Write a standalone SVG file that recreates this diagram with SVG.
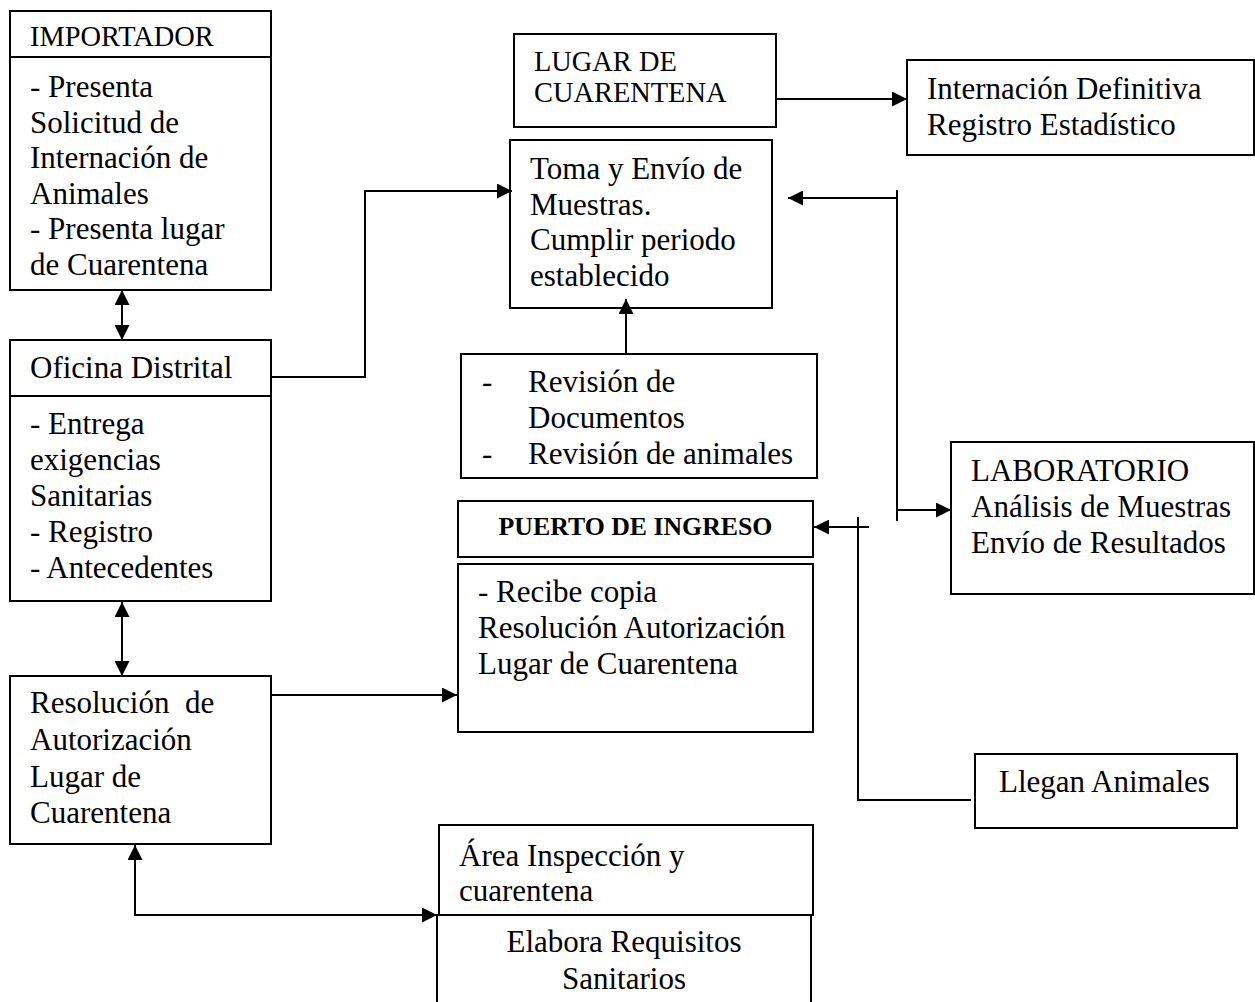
<svg xmlns="http://www.w3.org/2000/svg" width="1255" height="1002" viewBox="0 0 1255 1002">
<style>
.box{fill:#fff;stroke:#000;stroke-width:2}
.ln{fill:none;stroke:#000;stroke-width:2}
text{font-family:"Liberation Serif","Times New Roman",serif;font-size:31px;fill:#000}
.s{font-size:28.4px}
.b{font-size:25.8px;font-weight:bold}
</style>
<defs>
<marker id="ah" markerUnits="userSpaceOnUse" markerWidth="15" markerHeight="15" viewBox="0 0 15 15" refX="15" refY="7.5" orient="auto-start-reverse">
<path d="M0,0 L15,7.5 L0,15 z" fill="#000"/>
</marker>
</defs>
<rect width="1255" height="1002" fill="#fff"/>

<g id="importador">
<rect class="box" x="10" y="11" width="261" height="279"/>
<line class="ln" x1="10" y1="57" x2="271" y2="57"/>
<text class="s" x="30" y="46">IMPORTADOR</text>
<text x="30" y="97">- Presenta</text>
<text x="30" y="132.5">Solicitud de</text>
<text x="30" y="168">Internación de</text>
<text x="30" y="203.5">Animales</text>
<text x="30" y="239">- Presenta lugar</text>
<text x="30" y="274.5">de Cuarentena</text>
</g>

<g id="oficina">
<rect class="box" x="10" y="340" width="261" height="261"/>
<line class="ln" x1="10" y1="396" x2="271" y2="396"/>
<text x="30" y="378">Oficina Distrital</text>
<text x="30" y="434">- Entrega</text>
<text x="30" y="470">exigencias</text>
<text x="30" y="506">Sanitarias</text>
<text x="30" y="542">- Registro</text>
<text x="30" y="578">- Antecedentes</text>
</g>

<g id="resolucion">
<rect class="box" x="10" y="676" width="261" height="168"/>
<text x="30" y="713">Resolución<tspan x="185">de</tspan></text>
<text x="30" y="750">Autorización</text>
<text x="30" y="786.5">Lugar de</text>
<text x="30" y="822.5">Cuarentena</text>
</g>

<g id="lugar">
<rect class="box" x="514" y="34" width="262" height="93"/>
<text class="s" x="534" y="71">LUGAR DE</text>
<text class="s" x="534" y="102">CUARENTENA</text>
</g>

<g id="internacion">
<rect class="box" x="907" y="60" width="347" height="95"/>
<text x="927" y="99">Internación Definitiva</text>
<text x="927" y="135">Registro Estadístico</text>
</g>

<g id="toma">
<rect class="box" x="510" y="140" width="262" height="168"/>
<text x="530" y="178.5">Toma y Envío de</text>
<text x="530" y="214.5">Muestras.</text>
<text x="530" y="250">Cumplir periodo</text>
<text x="530" y="285.5">establecido</text>
</g>

<g id="revision">
<rect class="box" x="461" y="354" width="356" height="124"/>
<text x="482" y="392">-</text>
<text x="528" y="392">Revisión de</text>
<text x="528" y="428">Documentos</text>
<text x="482" y="464">-</text>
<text x="528" y="464">Revisión de animales</text>
</g>

<g id="puerto">
<rect class="box" x="458" y="501" width="355" height="56"/>
<text class="b" x="635.5" y="535" text-anchor="middle">PUERTO DE INGRESO</text>
</g>

<g id="recibe">
<rect class="box" x="458" y="564" width="355" height="168"/>
<text x="478" y="602">- Recibe copia</text>
<text x="478" y="638">Resolución Autorización</text>
<text x="478" y="674">Lugar de Cuarentena</text>
</g>

<g id="laboratorio">
<rect class="box" x="951" y="442" width="303" height="152"/>
<text x="971" y="481">LABORATORIO</text>
<text x="971" y="517">Análisis de Muestras</text>
<text x="971" y="552.5">Envío de Resultados</text>
</g>

<g id="llegan">
<rect class="box" x="975" y="754" width="262" height="74"/>
<text x="999" y="791.5">Llegan Animales</text>
</g>

<g id="area">
<rect class="box" x="439" y="825" width="374" height="90"/>
<text x="459" y="865.5">Área Inspección y</text>
<text x="459" y="901">cuarentena</text>
</g>

<g id="elabora">
<path class="box" d="M437,1010 V915 H811 V1010"/>
<text x="624" y="952" text-anchor="middle">Elabora Requisitos</text>
<text x="624" y="988.5" text-anchor="middle">Sanitarios</text>
</g>

<g id="connectors">
<line class="ln" x1="122" y1="290" x2="122" y2="340" marker-start="url(#ah)" marker-end="url(#ah)"/>
<line class="ln" x1="122" y1="602" x2="122" y2="676" marker-start="url(#ah)" marker-end="url(#ah)"/>
<path class="ln" d="M271,377 H365 V191 H512" marker-end="url(#ah)"/>
<line class="ln" x1="897" y1="190" x2="897" y2="521"/>
<line class="ln" x1="897" y1="198" x2="788" y2="198" marker-end="url(#ah)"/>
<line class="ln" x1="897" y1="510" x2="951" y2="510" marker-end="url(#ah)"/>
<line class="ln" x1="776" y1="99" x2="907" y2="99" marker-end="url(#ah)"/>
<line class="ln" x1="626" y1="354" x2="626" y2="299" marker-end="url(#ah)"/>
<line class="ln" x1="271" y1="695" x2="457" y2="695" marker-end="url(#ah)"/>
<path class="ln" d="M971,800 H858 V517"/>
<line class="ln" x1="869" y1="527" x2="814" y2="527" marker-end="url(#ah)"/>
<path class="ln" d="M135,845 V915 H437" marker-start="url(#ah)" marker-end="url(#ah)"/>
</g>
</svg>
